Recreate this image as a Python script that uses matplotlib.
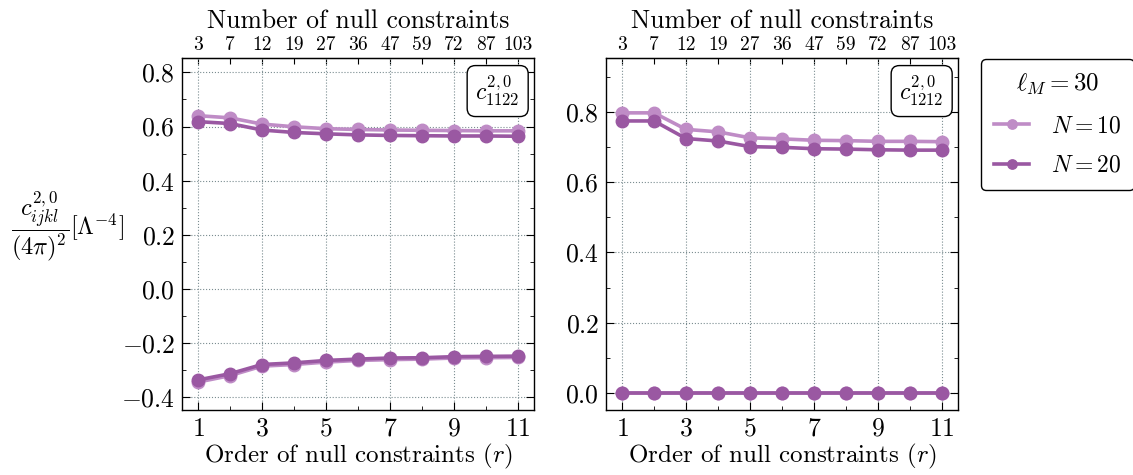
import matplotlib
matplotlib.use("Agg")
import matplotlib.pyplot as plt
import numpy as np

plt.rcParams['font.family'] = 'serif'
plt.rcParams['font.serif'] = ['cmr10']
plt.rcParams['mathtext.fontset'] = 'cm'
plt.rcParams['axes.formatter.use_mathtext'] = True
plt.rcParams['axes.unicode_minus'] = True

orders = [1, 2, 3, 4, 5, 6, 7, 8, 9, 10, 11]
num_constraints = ['3', '7', '12', '19', '27', '36', '47', '59', '72', '87', '103']

# panel 1: c_1122 (upper and lower branches)
c1122_upper_N10 = [0.640, 0.632, 0.609, 0.599, 0.592, 0.589, 0.587, 0.586, 0.585, 0.584, 0.584]
c1122_upper_N20 = [0.618, 0.611, 0.587, 0.578, 0.573, 0.569, 0.567, 0.566, 0.565, 0.565, 0.564]
c1122_lower_N10 = [-0.344, -0.320, -0.285, -0.279, -0.270, -0.264, -0.261, -0.259, -0.255, -0.254, -0.253]
c1122_lower_N20 = [-0.336, -0.313, -0.279, -0.273, -0.264, -0.259, -0.255, -0.254, -0.250, -0.249, -0.248]

# panel 2: c_1212
c1212_upper_N10 = [0.797, 0.797, 0.750, 0.743, 0.726, 0.723, 0.719, 0.718, 0.716, 0.716, 0.715]
c1212_upper_N20 = [0.774, 0.774, 0.724, 0.717, 0.701, 0.699, 0.695, 0.694, 0.692, 0.691, 0.691]
c1212_lower_N10 = [0.0] * 11
c1212_lower_N20 = [0.0] * 11

light = '#bf8cc6'
dark = '#9a58a2'

fig = plt.figure(figsize=(11.33, 4.75), dpi=100)
ax1 = fig.add_axes([182/1133, 65/475, 352/1133, 352/475])
ax2 = fig.add_axes([606/1133, 65/475, 352/1133, 352/475])

lw = 2.6
ms = 9

def draw(ax, up10, up20, lo10, lo20, label, ylim, yticks):
    ax.plot(orders, up10, '-o', color=light, lw=lw, ms=ms, label='$N=10$', zorder=3)
    ax.plot(orders, up20, '-o', color=dark, lw=lw, ms=ms, label='$N=20$', zorder=4)
    ax.plot(orders, lo10, '-o', color=light, lw=lw, ms=ms, zorder=3)
    ax.plot(orders, lo20, '-o', color=dark, lw=lw, ms=ms, zorder=4)
    ax.set_xlim(0.5, 11.5)
    ax.set_ylim(*ylim)
    ax.set_xticks([1, 3, 5, 7, 9, 11])
    ax.set_xticks(orders, minor=True)
    ax.set_yticks(yticks)
    ax.yaxis.set_minor_locator(matplotlib.ticker.MultipleLocator(0.1))
    ax.tick_params(which='both', direction='in', top=False, right=True)
    ax.tick_params(which='major', length=6, labelsize=18.5, pad=5)
    ax.tick_params(which='minor', length=3)
    ax.grid(True, which='major', linestyle=':', color='#7a8c90', lw=0.8)
    ax.set_xlabel('Order of null constraints ($r$)', fontsize=18, labelpad=1)
    ax.text(0.96, 0.955, label, transform=ax.transAxes, ha='right', va='top', fontsize=17,
            bbox=dict(boxstyle='round,pad=0.35', fc='white', ec='black', lw=1))
    sec = ax.secondary_xaxis('top')
    sec.set_xticks(orders)
    sec.set_xticklabels(num_constraints)
    sec.tick_params(direction='in', length=4, labelsize=14, pad=3)
    sec.set_xlabel('Number of null constraints', fontsize=18.5, labelpad=6)
    for sp in ax.spines.values():
        sp.set_linewidth(1.0)

draw(ax1, c1122_upper_N10, c1122_upper_N20, c1122_lower_N10, c1122_lower_N20,
     r'$c^{2,0}_{1122}$', (-0.447, 0.853), [-0.4, -0.2, 0.0, 0.2, 0.4, 0.6, 0.8])
draw(ax2, c1212_upper_N10, c1212_upper_N20, c1212_lower_N10, c1212_lower_N20,
     r'$c^{2,0}_{1212}$', (-0.048, 0.953), [0.0, 0.2, 0.4, 0.6, 0.8])

ax1.yaxis.set_major_formatter(matplotlib.ticker.FormatStrFormatter('$%.1f$'))
ax2.yaxis.set_major_formatter(matplotlib.ticker.FormatStrFormatter('$%.1f$'))

fig.text(67/1133, 1 - 226/475, r'$\dfrac{c^{2,0}_{ijkl}}{(4\pi)^2}[\Lambda^{-4}]$', fontsize=17.5,
         ha='center', va='center')

handles, labels = ax2.get_legend_handles_labels()
leg = fig.legend(handles, labels, loc='upper left', bbox_to_anchor=(981/1133, 1 - 59/475),
                 title=r'$\ell_M=30$', fontsize=17, title_fontsize=18, frameon=True,
                 fancybox=True, edgecolor='black', handlelength=1.5, markerscale=0.75,
                 borderpad=0.55, labelspacing=0.75, handletextpad=0.9, borderaxespad=0)
leg.get_frame().set_linewidth(1.0)
leg.get_frame().set_alpha(1)

fig.savefig('out.png', dpi=100)
